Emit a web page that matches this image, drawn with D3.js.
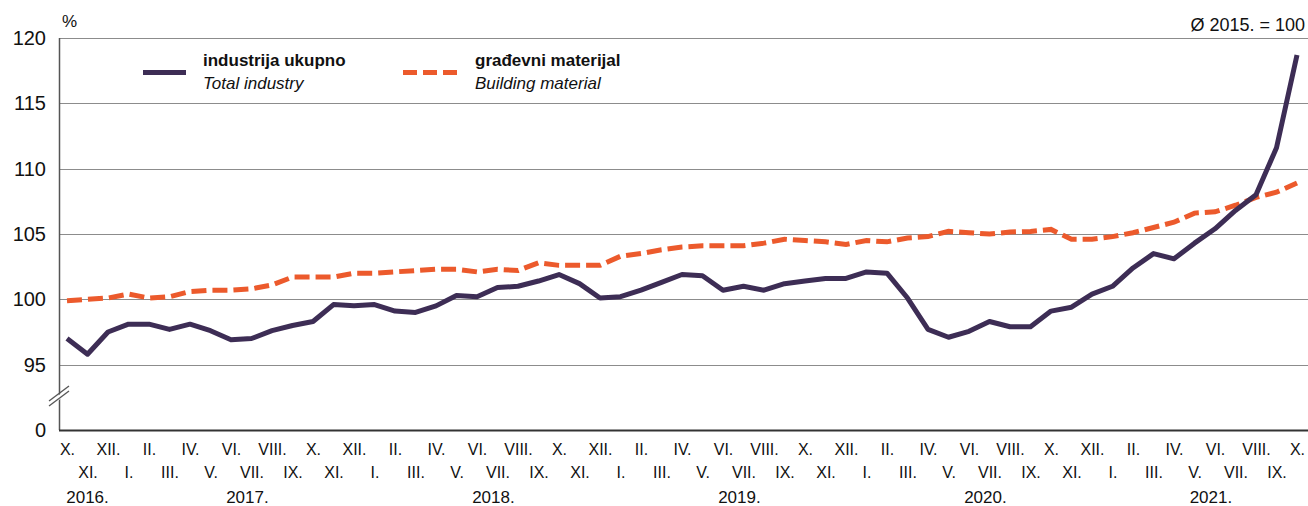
<!DOCTYPE html>
<html>
<head>
<meta charset="utf-8">
<script src="https://cdn.jsdelivr.net/npm/d3@7/dist/d3.min.js"></script>
<style>
  html, body { margin: 0; padding: 0; background: #fff; }
  svg { display: block; font-family: "Liberation Sans", Arial, Helvetica, sans-serif; }
</style>
</head>
<body>
<svg id="chart" width="1308" height="506"></svg>
<script>
// ---------- DATA ----------
const monthLabels = [
  "X.","XI.","XII.",
  "I.","II.","III.","IV.","V.","VI.","VII.","VIII.","IX.","X.","XI.","XII.",
  "I.","II.","III.","IV.","V.","VI.","VII.","VIII.","IX.","X.","XI.","XII.",
  "I.","II.","III.","IV.","V.","VI.","VII.","VIII.","IX.","X.","XI.","XII.",
  "I.","II.","III.","IV.","V.","VI.","VII.","VIII.","IX.","X.","XI.","XII.",
  "I.","II.","III.","IV.","V.","VI.","VII.","VIII.","IX.","X."
];
const yearLabels = ["2016.","2017.","2018.","2019.","2020.","2021."];

const totalIndustry = [
  97.0, 95.8, 97.5,
  98.1, 98.1, 97.7, 98.1, 97.6, 96.9, 97.0, 97.6, 98.0, 98.3, 99.6, 99.5,
  99.6, 99.1, 99.0, 99.5, 100.3, 100.2, 100.9, 101.0, 101.4, 101.9, 101.2, 100.1,
  100.2, 100.7, 101.3, 101.9, 101.8, 100.7, 101.0, 100.7, 101.2, 101.4, 101.6, 101.6,
  102.1, 102.0, 100.1, 97.7, 97.1, 97.55, 98.3, 97.9, 97.9, 99.1, 99.4, 100.4,
  101.0, 102.4, 103.5, 103.1, 104.3, 105.4, 106.8, 108.0, 111.6, 118.7
];
const buildingMaterial = [
  99.9, 100.0, 100.1,
  100.4, 100.1, 100.2, 100.6, 100.7, 100.7, 100.8, 101.1, 101.7, 101.7, 101.7, 102.0,
  102.0, 102.1, 102.2, 102.3, 102.3, 102.1, 102.3, 102.2, 102.8, 102.6, 102.6, 102.6,
  103.3, 103.5, 103.8, 104.0, 104.1, 104.1, 104.1, 104.3, 104.6, 104.5, 104.4, 104.2,
  104.5, 104.4, 104.7, 104.8, 105.2, 105.1, 105.0, 105.15, 105.2, 105.35, 104.6, 104.6,
  104.8, 105.1, 105.5, 105.9, 106.6, 106.7, 107.2, 107.8, 108.2, 108.9
];
const yTicks = [90, 95, 100, 105, 110, 115, 120];
const seriesNames = [
  ["industrija ukupno", "Total industry"],
  ["građevni materijal", "Building material"]
];
const unitLabel = "%";
const baseLabel = "Ø 2015. = 100";

// ---------- DERIVED ----------
const monthYear = [];
{
  let yi = 0;
  monthLabels.forEach((m, i) => { if (m === "I." && i > 0) yi++; monthYear.push(yi); });
}
const categories = monthLabels.map((m, i) => m + " " + yearLabels[monthYear[i]]);

// ---------- LAYOUT ----------
const svg = d3.select("#chart");
const pL = 59, pR = 1308, pT = 38, pB = 430;
const x = d3.scalePoint().domain(categories).range([67, 1297]);
const y = d3.scaleLinear().domain([90, 120]).range([pB, pT]);

const COL_PURPLE = "#3d2d55";
const COL_ORANGE = "#ec5a2c";
const TXT = "#111";

// gridlines
svg.append("g").selectAll("line")
  .data(yTicks.filter(d => d > 90))
  .join("line")
  .attr("x1", pL).attr("x2", pR)
  .attr("y1", d => Math.round(y(d)) + 0.5).attr("y2", d => Math.round(y(d)) + 0.5)
  .attr("stroke", "#8c8c8c").attr("stroke-width", 1.2);

// y axis
const yAxis = d3.axisLeft(y).tickValues(yTicks)
  .tickFormat(d => d === 90 ? "0" : String(d))
  .tickSize(0).tickPadding(13);
const gy = svg.append("g").attr("transform", `translate(${pL},0)`).call(yAxis);
gy.select(".domain").remove();
gy.selectAll("text").attr("font-size", 20).attr("fill", TXT)
  .attr("font-family", "'Liberation Sans', Arial, sans-serif");

// left axis line
svg.append("line").attr("x1", pL + 0.5).attr("x2", pL + 0.5)
  .attr("y1", pT).attr("y2", pB)
  .attr("stroke", "#555").attr("stroke-width", 1.5);

// bottom axis
const xAxis = d3.axisBottom(x).tickSize(0).tickFormat(d => d.split(" ")[0]);
const gx = svg.append("g").attr("transform", `translate(0,${pB})`).call(xAxis);
gx.select(".domain").remove();
gx.selectAll("text")
  .attr("font-size", 16).attr("fill", TXT)
  .attr("font-family", "'Liberation Sans', Arial, sans-serif")
  .attr("dy", 0)
  .attr("y", (d, i) => i % 2 === 0 ? 25 : 48);
svg.append("line").attr("x1", pL).attr("x2", pR)
  .attr("y1", pB + 0.5).attr("y2", pB + 0.5)
  .attr("stroke", "#333").attr("stroke-width", 2);

// break symbol on y axis
const bk = svg.append("g");
bk.append("polygon")
  .attr("points", `${pL-8},${401} ${pL+8},${389} ${pL+8},${394} ${pL-8},${406}`)
  .attr("fill", "#fff");
bk.append("line").attr("x1", pL - 10).attr("y1", 401).attr("x2", pL + 10).attr("y2", 386)
  .attr("stroke", "#555").attr("stroke-width", 1.3);
bk.append("line").attr("x1", pL - 10).attr("y1", 406).attr("x2", pL + 10).attr("y2", 391)
  .attr("stroke", "#555").attr("stroke-width", 1.3);

// year labels
const step = x.step();
yearLabels.forEach((yl, yi) => {
  const xs = categories.filter((c, i) => monthYear[i] === yi).map(c => x(c));
  const cx = d3.mean(xs) + (yi > 0 ? 0.3 * step : 0);
  svg.append("text").attr("x", cx).attr("y", 503)
    .attr("text-anchor", "middle").attr("font-size", 17).attr("fill", TXT)
    .text(yl);
});

// lines
const line = d3.line().x((d, i) => x(categories[i])).y(d => y(d));
svg.append("path").datum(buildingMaterial)
  .attr("d", line).attr("fill", "none")
  .attr("stroke", COL_ORANGE).attr("stroke-width", 5)
  .attr("stroke-dasharray", "15,6");
svg.append("path").datum(totalIndustry)
  .attr("d", line).attr("fill", "none")
  .attr("stroke", COL_PURPLE).attr("stroke-width", 5)
  .attr("stroke-linejoin", "round");

// legend
const lg = svg.append("g");
lg.append("line").attr("x1", 143).attr("x2", 186).attr("y1", 72.5).attr("y2", 72.5)
  .attr("stroke", COL_PURPLE).attr("stroke-width", 5);
lg.append("text").attr("x", 203).attr("y", 66).attr("font-size", 17).attr("font-weight", "bold")
  .attr("fill", TXT).text(seriesNames[0][0]);
lg.append("text").attr("x", 203).attr("y", 89).attr("font-size", 17).attr("font-style", "italic")
  .attr("fill", TXT).text(seriesNames[0][1]);

lg.append("line").attr("x1", 403).attr("x2", 457).attr("y1", 72.5).attr("y2", 72.5)
  .attr("stroke", COL_ORANGE).attr("stroke-width", 5).attr("stroke-dasharray", "14,6");
lg.append("text").attr("x", 475).attr("y", 66).attr("font-size", 17).attr("font-weight", "bold")
  .attr("fill", TXT).text(seriesNames[1][0]);
lg.append("text").attr("x", 475).attr("y", 89).attr("font-size", 17).attr("font-style", "italic")
  .attr("fill", TXT).text(seriesNames[1][1]);

// unit and base labels
svg.append("text").attr("x", 62).attr("y", 27).attr("font-size", 17).attr("fill", TXT).text(unitLabel);
svg.append("text").attr("x", 1305).attr("y", 31).attr("text-anchor", "end")
  .attr("font-size", 18).attr("fill", TXT).text(baseLabel);
</script>
</body>
</html>
